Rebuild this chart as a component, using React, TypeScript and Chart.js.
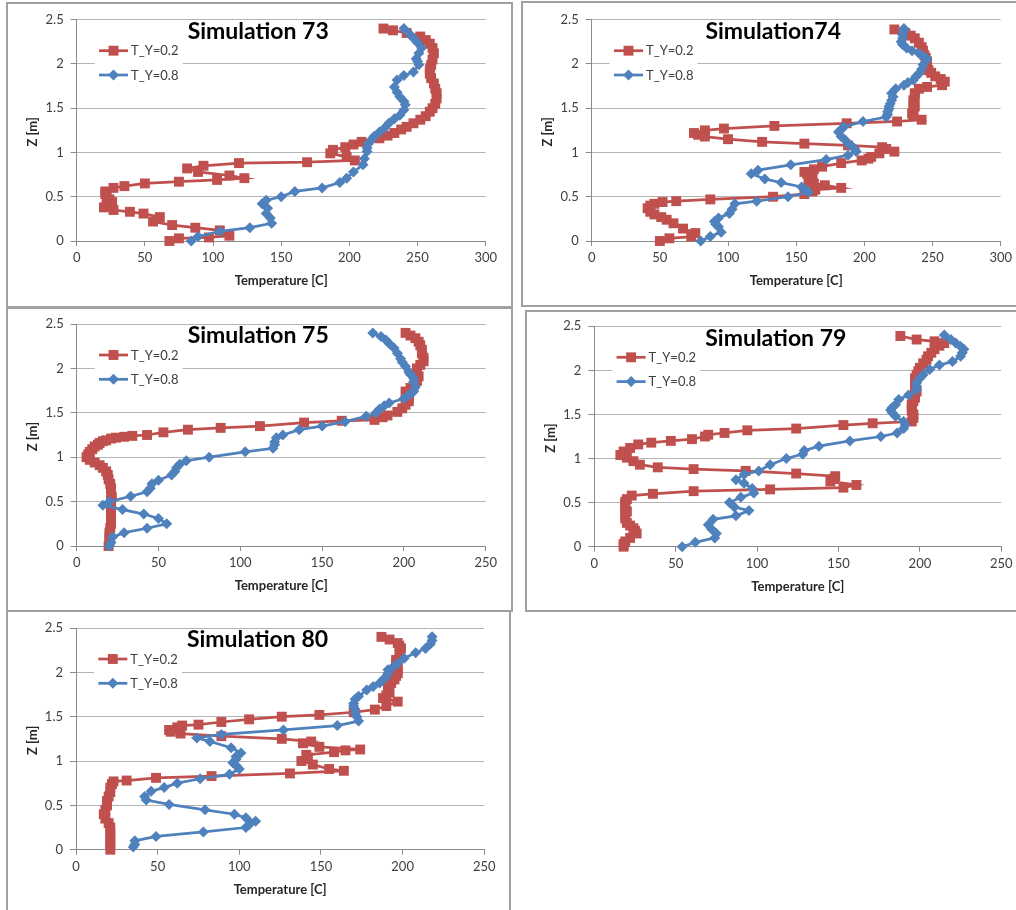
import React, { useEffect, useRef } from 'react';
import { Chart, registerables } from 'chart.js';

Chart.register(...registerables);
Chart.defaults.font.family = 'Lato';

// ---------- data (each pair is [Z in m, Temperature in C]) ----------
const SERIES_LABELS = ['T_Y=0.2', 'T_Y=0.8'];
const PANEL_TITLES = ['Simulation 73', 'Simulation74', 'Simulation 75', 'Simulation 79', 'Simulation 80'];
const X_AXIS_TITLE = 'Temperature [C]';
const Y_AXIS_TITLE = 'Z [m]';
const X_MAX = [300, 300, 250, 250, 250];

const sim73_TY02: [number, number][] = [
  [0, 68], [0.03, 75], [0.04, 97], [0.06, 112], [0.12, 105], [0.15, 87], [0.18, 70], [0.22, 56], [0.27, 61], [0.31, 49],
  [0.33, 39], [0.35, 27], [0.38, 20], [0.41, 22], [0.44, 26], [0.47, 24], [0.5, 22], [0.53, 21], [0.56, 21], [0.6, 27],
  [0.62, 35], [0.65, 50], [0.67, 75], [0.69, 103], [0.71, 123], [0.74, 112], [0.78, 89], [0.82, 81], [0.85, 93], [0.88, 119],
  [0.89, 169], [0.91, 204], [0.95, 198], [0.99, 186], [1.03, 188], [1.06, 197], [1.09, 203], [1.12, 209], [1.16, 222], [1.19, 228],
  [1.22, 233], [1.26, 238], [1.29, 242], [1.33, 247], [1.37, 252], [1.41, 256], [1.46, 259], [1.5, 261], [1.55, 263], [1.61, 264],
  [1.67, 264], [1.72, 263], [1.78, 262], [1.84, 260], [1.89, 259], [1.94, 259], [1.99, 260], [2.05, 261], [2.12, 262], [2.18, 261],
  [2.23, 259], [2.27, 256], [2.31, 252], [2.35, 242], [2.38, 232], [2.4, 225],
];
const sim73_TY08: [number, number][] = [
  [0, 84], [0.05, 89], [0.11, 105], [0.15, 127], [0.2, 143], [0.26, 142], [0.31, 139], [0.37, 140], [0.42, 136], [0.46, 139],
  [0.5, 150], [0.56, 160], [0.6, 180], [0.66, 193], [0.71, 198], [0.78, 203], [0.86, 210], [0.93, 211], [1.01, 213], [1.05, 213],
  [1.1, 214], [1.14, 216], [1.18, 218], [1.23, 222], [1.28, 226], [1.33, 229], [1.38, 233], [1.42, 237], [1.48, 240], [1.54, 241],
  [1.58, 240], [1.63, 237], [1.68, 235], [1.74, 233], [1.82, 235], [1.87, 240], [1.91, 247], [1.99, 251], [2.03, 250], [2.06, 249],
  [2.12, 251], [2.18, 253], [2.24, 250], [2.29, 247], [2.34, 244], [2.4, 240],
];

const sim74_TY02: [number, number][] = [
  [0, 50], [0.03, 57], [0.05, 73], [0.09, 76], [0.14, 67], [0.2, 60], [0.24, 55], [0.27, 51], [0.3, 46], [0.33, 43],
  [0.37, 41], [0.4, 43], [0.42, 46], [0.44, 52], [0.45, 62], [0.47, 87], [0.5, 133], [0.53, 156], [0.56, 162], [0.58, 164],
  [0.6, 183], [0.63, 171], [0.65, 163], [0.67, 159], [0.7, 162], [0.73, 161], [0.76, 158], [0.78, 156], [0.81, 163], [0.84, 169],
  [0.88, 183], [0.91, 198], [0.93, 203], [0.95, 205], [0.99, 211], [1.01, 222], [1.04, 216], [1.06, 213], [1.08, 188], [1.1, 156],
  [1.12, 125], [1.15, 100], [1.18, 83], [1.2, 78], [1.22, 75], [1.25, 83], [1.27, 97], [1.3, 134], [1.33, 187], [1.35, 224],
  [1.37, 242], [1.41, 236], [1.44, 235], [1.48, 236], [1.52, 237], [1.55, 236], [1.59, 236], [1.63, 237], [1.67, 237], [1.72, 240],
  [1.74, 246], [1.76, 257], [1.8, 259], [1.83, 256], [1.86, 252], [1.9, 249], [1.93, 247], [1.98, 246], [2.03, 246], [2.07, 245],
  [2.1, 244], [2.15, 243], [2.19, 242], [2.24, 240], [2.29, 237], [2.32, 234], [2.35, 230], [2.39, 222],
];
const sim74_TY08: [number, number][] = [
  [0, 80], [0.05, 87], [0.1, 95], [0.16, 93], [0.19, 91], [0.22, 90], [0.26, 93], [0.31, 101], [0.36, 103], [0.42, 105],
  [0.45, 121], [0.5, 144], [0.55, 159], [0.58, 157], [0.61, 154], [0.66, 139], [0.7, 127], [0.76, 117], [0.8, 122], [0.86, 146],
  [0.92, 172], [0.97, 188], [1.01, 194], [1.04, 193], [1.07, 191], [1.1, 188], [1.14, 186], [1.18, 183], [1.23, 181], [1.26, 183],
  [1.29, 185], [1.35, 199], [1.4, 216], [1.43, 217], [1.46, 217], [1.49, 218], [1.52, 218], [1.55, 219], [1.59, 220], [1.63, 221],
  [1.67, 220], [1.72, 223], [1.76, 229], [1.79, 232], [1.82, 236], [1.86, 238], [1.89, 240], [1.94, 242], [1.99, 243], [2.03, 245],
  [2.06, 246], [2.09, 243], [2.12, 240], [2.15, 235], [2.18, 231], [2.22, 228], [2.25, 227], [2.29, 228], [2.33, 228], [2.37, 229],
  [2.4, 229],
];

const sim75_TY02: [number, number][] = [
  [0, 19.5], [0.05, 20], [0.1, 20], [0.15, 20], [0.2, 20.5], [0.25, 21], [0.3, 21], [0.35, 21], [0.4, 21], [0.45, 21],
  [0.5, 21], [0.55, 21.5], [0.6, 21], [0.65, 21], [0.7, 20.5], [0.75, 19.5], [0.8, 19], [0.84, 18], [0.88, 16], [0.91, 14],
  [0.94, 11], [0.97, 8], [1, 6], [1.03, 7], [1.06, 8], [1.09, 9.5], [1.12, 11], [1.14, 13], [1.16, 14], [1.18, 16],
  [1.19, 18], [1.21, 21], [1.22, 24], [1.23, 29], [1.24, 34], [1.25, 43], [1.28, 53], [1.31, 68], [1.33, 88], [1.35, 112],
  [1.39, 139], [1.41, 162], [1.42, 182], [1.45, 187], [1.47, 190], [1.51, 196], [1.55, 199], [1.59, 201], [1.63, 203], [1.66, 203],
  [1.7, 202], [1.74, 201], [1.78, 204], [1.81, 206], [1.86, 208], [1.91, 209], [1.96, 208], [2, 208], [2.04, 210], [2.08, 212],
  [2.12, 212], [2.17, 211], [2.21, 211], [2.26, 210], [2.3, 209], [2.34, 207], [2.37, 204], [2.4, 201],
];
const sim75_TY08: [number, number][] = [
  [0, 20], [0.04, 21], [0.1, 22], [0.15, 29], [0.2, 43], [0.25, 55], [0.31, 50], [0.36, 41], [0.41, 28], [0.46, 16],
  [0.5, 20], [0.56, 33], [0.61, 43], [0.65, 45], [0.7, 46], [0.74, 50], [0.8, 58], [0.84, 60], [0.88, 61], [0.92, 63],
  [0.96, 67], [1, 81], [1.06, 103], [1.1, 120], [1.14, 121], [1.17, 121], [1.22, 122], [1.25, 126], [1.31, 136], [1.35, 150],
  [1.4, 164], [1.46, 177], [1.5, 183], [1.54, 185], [1.58, 188], [1.61, 191], [1.66, 200], [1.7, 203], [1.74, 206], [1.79, 207],
  [1.84, 206], [1.89, 206], [1.93, 204], [1.96, 203], [2.02, 201], [2.07, 199], [2.11, 198], [2.17, 196], [2.23, 194], [2.28, 191],
  [2.32, 189], [2.36, 186], [2.4, 181],
];

const sim79_TY02: [number, number][] = [
  [0, 18], [0.03, 18], [0.06, 19], [0.1, 22], [0.15, 26], [0.18, 25], [0.21, 24], [0.24, 22], [0.27, 20], [0.32, 19],
  [0.36, 19], [0.4, 20], [0.44, 19], [0.48, 19], [0.51, 19], [0.54, 20], [0.58, 23], [0.6, 36], [0.63, 61], [0.65, 108],
  [0.67, 153], [0.7, 161], [0.74, 145], [0.77, 147], [0.8, 148], [0.83, 124], [0.86, 93], [0.88, 61], [0.9, 39], [0.93, 28],
  [0.97, 24], [1.01, 20], [1.04, 16], [1.08, 18], [1.12, 22], [1.16, 27], [1.18, 35], [1.2, 47], [1.22, 60], [1.25, 68],
  [1.27, 70], [1.29, 80], [1.32, 94], [1.34, 124], [1.38, 153], [1.4, 171], [1.42, 195], [1.46, 196], [1.5, 196], [1.54, 195],
  [1.58, 195], [1.61, 195], [1.65, 196], [1.69, 197], [1.72, 197], [1.76, 198], [1.8, 197], [1.84, 197], [1.88, 197], [1.91, 197],
  [1.95, 198], [1.99, 199], [2.03, 200], [2.08, 202], [2.12, 204], [2.16, 205], [2.2, 207], [2.24, 209], [2.28, 212], [2.31, 215],
  [2.33, 209], [2.35, 198], [2.39, 188],
];
const sim79_TY08: [number, number][] = [
  [0, 54], [0.05, 62], [0.1, 74], [0.15, 75], [0.2, 72], [0.25, 70], [0.31, 73], [0.35, 87], [0.41, 95], [0.45, 86],
  [0.5, 83], [0.56, 90], [0.61, 98], [0.66, 97], [0.72, 92], [0.76, 87], [0.82, 92], [0.86, 101], [0.93, 108], [1, 118],
  [1.05, 128], [1.09, 129], [1.14, 138], [1.2, 157], [1.25, 176], [1.29, 186], [1.34, 190], [1.38, 191], [1.42, 190], [1.48, 185],
  [1.52, 183], [1.55, 182], [1.58, 183], [1.61, 185], [1.67, 187], [1.72, 193], [1.78, 198], [1.82, 198], [1.86, 198], [1.91, 200],
  [1.95, 202], [2.01, 206], [2.06, 212], [2.1, 220], [2.16, 225], [2.2, 226], [2.24, 227], [2.27, 225], [2.31, 222], [2.35, 219],
  [2.4, 215],
];

const sim80_TY02: [number, number][] = [
  [0, 21], [0.05, 21], [0.1, 21], [0.15, 21], [0.2, 21], [0.25, 21], [0.3, 20], [0.35, 18], [0.4, 17], [0.45, 18],
  [0.5, 19], [0.55, 19], [0.6, 20], [0.65, 21], [0.7, 21], [0.74, 22], [0.77, 23], [0.78, 31], [0.81, 49], [0.83, 83],
  [0.86, 131], [0.89, 164], [0.91, 155], [0.96, 145], [1, 138], [1.04, 142], [1.07, 141], [1.1, 158], [1.12, 165], [1.13, 174],
  [1.16, 149], [1.2, 139], [1.22, 144], [1.25, 126], [1.28, 89], [1.31, 64], [1.33, 58], [1.35, 57], [1.38, 62], [1.4, 65],
  [1.41, 75], [1.44, 89], [1.47, 106], [1.5, 126], [1.52, 149], [1.55, 170], [1.58, 183], [1.62, 190], [1.67, 197], [1.71, 188],
  [1.74, 190], [1.77, 192], [1.81, 191], [1.84, 191], [1.88, 193], [1.92, 195], [1.96, 196], [1.99, 197], [2.03, 197], [2.07, 197],
  [2.11, 196], [2.14, 196], [2.2, 198], [2.27, 199], [2.3, 198], [2.33, 197], [2.37, 192], [2.4, 187],
];
const sim80_TY08: [number, number][] = [
  [0.03, 35], [0.06, 36], [0.1, 36], [0.15, 49], [0.2, 78], [0.25, 104], [0.28, 106], [0.32, 110], [0.36, 104], [0.4, 97],
  [0.45, 79], [0.51, 57], [0.56, 43], [0.6, 42], [0.66, 46], [0.7, 54], [0.75, 62], [0.8, 76], [0.85, 94], [0.91, 100],
  [0.95, 98], [0.98, 96], [1.02, 98], [1.05, 98], [1.09, 101], [1.15, 95], [1.22, 82], [1.26, 74], [1.3, 89], [1.35, 127],
  [1.4, 160], [1.45, 173], [1.5, 172], [1.54, 171], [1.58, 171], [1.62, 170], [1.65, 170], [1.7, 171], [1.73, 173], [1.8, 178],
  [1.84, 182], [1.88, 186], [1.92, 188], [1.95, 190], [1.99, 191], [2.03, 191], [2.06, 194], [2.1, 197], [2.16, 201], [2.22, 208],
  [2.27, 214], [2.32, 217], [2.36, 218], [2.4, 218],
];

const SERIES_02 = [sim73_TY02, sim74_TY02, sim75_TY02, sim79_TY02, sim80_TY02];
const SERIES_08 = [sim73_TY08, sim74_TY08, sim75_TY08, sim79_TY08, sim80_TY08];

// ---------- layout / style ----------
const RED = '#C0504D';
const BLUE = '#4F81BD';
const GRID = '#b4b4b4';
const AXIS = '#8a8a8a';
const TICK_TEXT = '#404040';
const FRAME = '#a0a0a0';
const LINE_W = 2.75;
const RED_R = 7;
const BLUE_R = 5.5;

type Box = { x: number; y: number; w: number; h: number };
type Plot = { l: number; t: number; r: number; b: number };
const BOXES: Box[] = [
  { x: 6, y: 2, w: 507, h: 306 },
  { x: 521, y: 1, w: 500, h: 306 },
  { x: 6, y: 307, w: 507, h: 305 },
  { x: 525, y: 310, w: 495, h: 302 },
  { x: 6, y: 610, w: 505, h: 305 },
];
const PLOTS: Plot[] = [
  { l: 76.7, t: 19.7, r: 485.7, b: 241 },
  { l: 591.7, t: 19.7, r: 1000.7, b: 241 },
  { l: 76.7, t: 324, r: 485.7, b: 546 },
  { l: 594.3, t: 326.3, r: 1001.3, b: 546.7 },
  { l: 76, t: 628, r: 484.3, b: 849.7 },
];
const Y_AXIS_W = 50;
const X_AXIS_H = 30;

const drawMarker = (ctx: CanvasRenderingContext2D, kind: 'square' | 'diamond', x: number, y: number, color: string) => {
  ctx.fillStyle = color;
  ctx.beginPath();
  if (kind === 'square') {
    const s = RED_R * Math.SQRT1_2;
    ctx.rect(x - s, y - s, 2 * s, 2 * s);
  } else {
    ctx.moveTo(x - BLUE_R, y);
    ctx.lineTo(x, y - BLUE_R);
    ctx.lineTo(x + BLUE_R, y);
    ctx.lineTo(x, y + BLUE_R);
    ctx.closePath();
  }
  ctx.fill();
};

const decorPlugin = {
  id: 'decor',
  beforeDraw(chart: any) {
    const { ctx, width, height } = chart;
    ctx.save();
    ctx.fillStyle = '#ffffff';
    ctx.fillRect(0, 0, width, height);
    ctx.restore();
  },
  afterDraw(chart: any, _args: any, opts: any) {
    const { ctx, chartArea: a, width, height } = chart;
    ctx.save();
    // frame
    ctx.strokeStyle = FRAME;
    ctx.lineWidth = 2;
    ctx.strokeRect(1, 1, width - 2, height - 2);
    // title
    ctx.fillStyle = '#000000';
    ctx.font = 'bold 23px Lato';
    ctx.textAlign = 'center';
    ctx.textBaseline = 'middle';
    ctx.fillText(opts.title, a.left + 181.5, a.top + 12);
    // legend
    ctx.fillStyle = '#ffffff';
    ctx.fillRect(a.left + 18, a.top + 20, 88, 46);
    const rows = [
      { label: SERIES_LABELS[0], color: RED, kind: 'square' as const, y: a.top + 31 },
      { label: SERIES_LABELS[1], color: BLUE, kind: 'diamond' as const, y: a.top + 55.3 },
    ];
    ctx.font = '13px Lato';
    ctx.textAlign = 'left';
    for (const r of rows) {
      ctx.strokeStyle = r.color;
      ctx.lineWidth = LINE_W;
      ctx.beginPath();
      ctx.moveTo(a.left + 22.3, r.y);
      ctx.lineTo(a.left + 51.3, r.y);
      ctx.stroke();
      drawMarker(ctx, r.kind, a.left + 36.8, r.y, r.color);
      ctx.fillStyle = TICK_TEXT;
      ctx.fillText(r.label, a.left + 54.3, r.y + 0.5);
    }
    // axis titles
    ctx.fillStyle = '#262626';
    ctx.font = 'bold 13px Lato';
    ctx.textAlign = 'center';
    ctx.fillText(X_AXIS_TITLE, (a.left + a.right) / 2, a.bottom + 40);
    ctx.translate(a.left - 43.4, (a.top + a.bottom) / 2 + 1.5);
    ctx.rotate(-Math.PI / 2);
    ctx.fillText(Y_AXIS_TITLE, 0, 0);
    ctx.restore();
  },
};

function Panel({ index }: { index: number }) {
  const ref = useRef<HTMLCanvasElement | null>(null);
  const box = BOXES[index];
  const plot = PLOTS[index];

  useEffect(() => {
    if (!ref.current) return;
    const toPoints = (arr: [number, number][]) => arr.map(([z, t]) => ({ x: t, y: z }));
    const tickFont = { family: 'Lato', size: 13 };
    const chart = new Chart(ref.current, {
      type: 'scatter',
      data: {
        datasets: [
          {
            label: SERIES_LABELS[0],
            data: toPoints(SERIES_02[index]),
            showLine: true,
            borderColor: RED,
            backgroundColor: RED,
            borderWidth: LINE_W,
            pointStyle: 'rect',
            pointRadius: RED_R,
            pointBorderWidth: 0,
            pointBackgroundColor: RED,
            order: 1,
            clip: false,
          } as any,
          {
            label: SERIES_LABELS[1],
            data: toPoints(SERIES_08[index]),
            showLine: true,
            borderColor: BLUE,
            backgroundColor: BLUE,
            borderWidth: LINE_W,
            pointStyle: 'rectRot',
            pointRadius: BLUE_R,
            pointBorderWidth: 0,
            pointBackgroundColor: BLUE,
            order: 0,
            clip: false,
          } as any,
        ],
      },
      options: {
        animation: false,
        responsive: false,
        maintainAspectRatio: false,
        devicePixelRatio: 1,
        events: [],
        layout: {
          padding: {
            left: plot.l - box.x - Y_AXIS_W,
            top: plot.t - box.y,
            right: box.x + box.w - plot.r,
            bottom: box.y + box.h - plot.b - X_AXIS_H,
          },
        },
        plugins: {
          legend: { display: false },
          tooltip: { enabled: false },
          decor: { title: PANEL_TITLES[index] },
        } as any,
        scales: {
          x: {
            type: 'linear',
            position: 'bottom',
            min: 0,
            max: X_MAX[index],
            ticks: { stepSize: 50, font: tickFont, color: TICK_TEXT, padding: 4, maxRotation: 0, callback: (v: any) => String(v) },
            grid: { drawOnChartArea: false, drawTicks: true, tickLength: 5, color: AXIS },
            border: { display: true, color: AXIS, width: 1 },
            afterFit: (s: any) => { s.height = X_AXIS_H; },
          },
          y: {
            type: 'linear',
            min: 0,
            max: 2.5,
            ticks: { stepSize: 0.5, font: tickFont, color: TICK_TEXT, padding: 7, callback: (v: any) => String(v) },
            grid: { color: GRID, tickColor: AXIS, tickLength: 6, lineWidth: 1 },
            border: { display: true, color: AXIS, width: 1 },
            afterFit: (s: any) => { s.width = Y_AXIS_W; },
          },
        },
      },
      plugins: [decorPlugin as any],
    });
    return () => chart.destroy();
  }, [index]);

  return (
    <canvas
      ref={ref}
      width={box.w}
      height={box.h}
      style={{ position: 'absolute', left: box.x, top: box.y, width: box.w, height: box.h, display: 'block' }}
    />
  );
}

export default function App() {
  return (
    <div style={{ position: 'absolute', left: 0, top: 0, width: 1016, height: 910, overflow: 'hidden', background: '#ffffff' }}>
      {PANEL_TITLES.map((_, i) => (
        <Panel key={i} index={i} />
      ))}
    </div>
  );
}
